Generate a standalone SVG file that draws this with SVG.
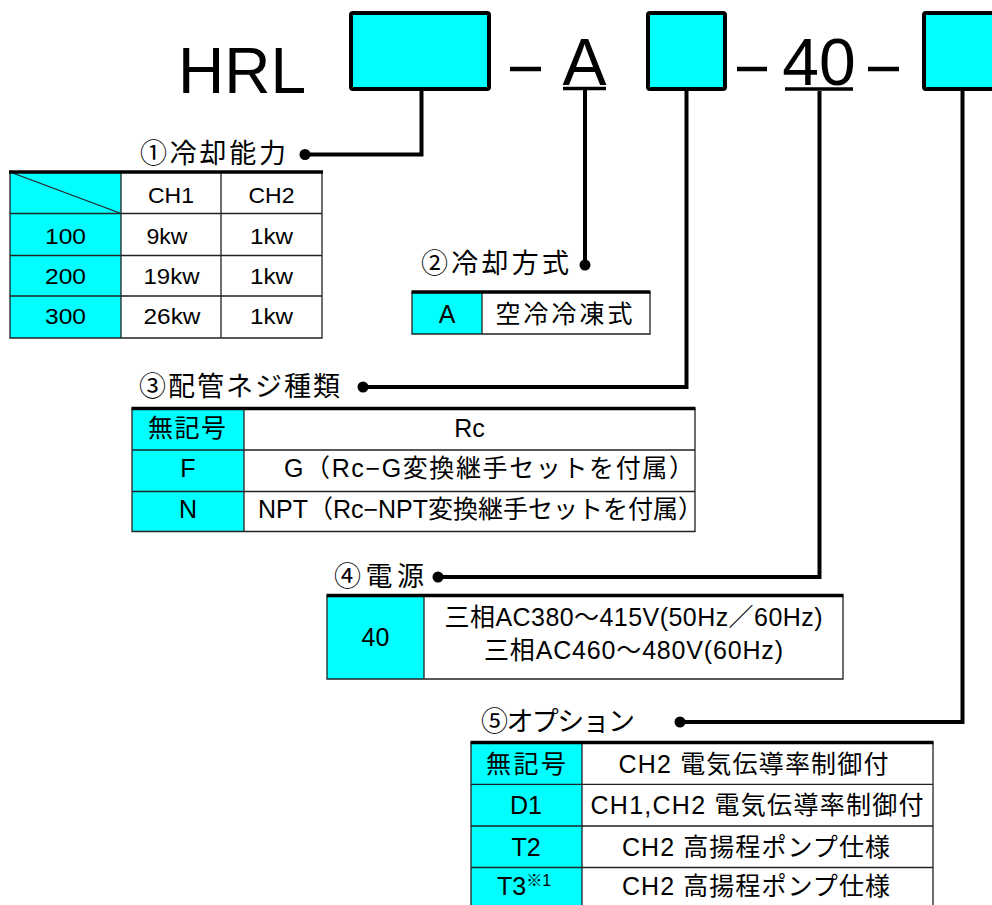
<svg xmlns="http://www.w3.org/2000/svg" width="992" height="905" viewBox="0 0 992 905">
<style>
.lbl{font-family:"Liberation Sans","Noto Sans CJK JP",sans-serif;font-size:27px;fill:#000}
.t{font-family:"Liberation Sans","Noto Sans CJK JP",sans-serif;font-size:25px;fill:#000;text-anchor:middle}
.t1{font-family:"Liberation Sans","Noto Sans CJK JP",sans-serif;font-size:22.5px;fill:#000;text-anchor:middle}
.big{font-family:"Liberation Sans","Noto Sans CJK JP",sans-serif;fill:#000}
.cy{fill:#00FFFF}
.wh{fill:#FFFFFF}
.grid{stroke:#222;stroke-width:1.3;fill:none}
.top{stroke:#000;stroke-width:3.5}
.box{fill:#00FFFF;stroke:#000;stroke-width:4}
.bar{stroke:#000;stroke-width:4.5}
.ul{stroke:#000;stroke-width:3.5}
.conn{stroke:#000;stroke-width:4;fill:none}
.dot{fill:#000}
</style>
<rect width="992" height="905" fill="#FFFFFF"/>

<g id="code">
  <text class="big" x="178" y="93" font-size="64">HRL</text>
  <rect class="box" x="351" y="13" width="138" height="76" rx="2"/>
  <line class="bar" x1="510" y1="69" x2="541" y2="69"/>
  <text class="big" x="584.5" y="85" font-size="66" text-anchor="middle">A</text>
  <line class="ul" x1="563" y1="88.5" x2="606" y2="88.5"/>
  <rect class="box" x="648" y="13" width="77" height="76" rx="2"/>
  <line class="bar" x1="737" y1="69" x2="767" y2="69"/>
  <text class="big" x="819" y="85" font-size="66" text-anchor="middle">40</text>
  <line class="ul" x1="785" y1="89" x2="853" y2="89"/>
  <line class="bar" x1="868" y1="69" x2="899" y2="69"/>
  <rect class="box" x="924" y="13" width="80" height="76" rx="2"/>
</g>

<g id="connectors">
  <path class="conn" d="M421.5,91 V154.5 H305"/>
  <circle class="dot" cx="305" cy="154.5" r="5.5"/>
  <path class="conn" d="M585,90 V265"/>
  <circle class="dot" cx="585" cy="265" r="5.5"/>
  <path class="conn" d="M686.5,91 V387 H363"/>
  <circle class="dot" cx="363" cy="387" r="5.5"/>
  <path class="conn" d="M819.5,91 V577 H438"/>
  <circle class="dot" cx="438" cy="577" r="5.5"/>
  <path class="conn" d="M962.5,91 V722 H680"/>
  <circle class="dot" cx="680" cy="722" r="5.5"/>
</g>

<g id="opt1">
  <text class="lbl" x="140" y="163" textLength="146">①冷却能力</text>
  <rect class="cy" x="10" y="172" width="111" height="166"/>
  <rect class="wh" x="121" y="172" width="201" height="166"/>
  <path class="grid" d="M10,172 V338 H322 V172 M121,172 V338 M221,172 V338 M10,213.5 H322 M10,255.5 H322 M10,296 H322"/>
  <line class="grid" x1="10" y1="172" x2="121" y2="213.5"/>
  <line class="top" x1="9" y1="172" x2="323" y2="172"/>
  <text class="t1" x="171" y="203" textLength="46" lengthAdjust="spacingAndGlyphs">CH1</text>
  <text class="t1" x="271.5" y="203" textLength="46" lengthAdjust="spacingAndGlyphs">CH2</text>
  <text class="t1" x="65.5" y="243.5" textLength="41" lengthAdjust="spacingAndGlyphs">100</text>
  <text class="t1" x="167" y="243.5" textLength="41" lengthAdjust="spacingAndGlyphs">9kw</text>
  <text class="t1" x="271.5" y="243.5" textLength="43" lengthAdjust="spacingAndGlyphs">1kw</text>
  <text class="t1" x="65.5" y="284" textLength="41" lengthAdjust="spacingAndGlyphs">200</text>
  <text class="t1" x="171.5" y="284" textLength="56" lengthAdjust="spacingAndGlyphs">19kw</text>
  <text class="t1" x="271.5" y="284" textLength="43" lengthAdjust="spacingAndGlyphs">1kw</text>
  <text class="t1" x="65.5" y="324" textLength="41" lengthAdjust="spacingAndGlyphs">300</text>
  <text class="t1" x="172" y="324" textLength="57" lengthAdjust="spacingAndGlyphs">26kw</text>
  <text class="t1" x="271.5" y="324" textLength="43" lengthAdjust="spacingAndGlyphs">1kw</text>
</g>

<g id="opt2">
  <text class="lbl" x="421" y="273" textLength="148">②冷却方式</text>
  <rect class="cy" x="412" y="292" width="70" height="42"/>
  <rect class="wh" x="482" y="292" width="168" height="42"/>
  <path class="grid" d="M412,292 V334 H650 V292 M482,292 V334"/>
  <line class="top" x1="411.5" y1="292" x2="650.5" y2="292"/>
  <text class="t" x="447" y="323">A</text>
  <text class="t" x="564" y="323" font-size="26" textLength="137">空冷冷凍式</text>
</g>

<g id="opt3">
  <text class="lbl" x="139" y="396" textLength="201">③配管ネジ種類</text>
  <rect class="cy" x="132" y="408.5" width="112" height="123"/>
  <rect class="wh" x="244" y="408.5" width="451" height="123"/>
  <path class="grid" d="M132,408.5 V531.5 H695 V408.5 M244,408.5 V531.5 M132,450 H695 M132,491.5 H695"/>
  <line class="top" x1="131.5" y1="408.5" x2="695.5" y2="408.5"/>
  <text class="t" x="187" y="437" textLength="78">無記号</text>
  <text class="t" x="469.5" y="437">Rc</text>
  <text class="t" x="188" y="477">F</text>
  <text class="t" x="284" y="477" style="text-anchor:start" textLength="410">G（Rc−G変換継手セットを付属）</text>
  <text class="t" x="188" y="518">N</text>
  <text class="t" x="258" y="518" style="text-anchor:start" textLength="445">NPT（Rc−NPT変換継手セットを付属）</text>
</g>

<g id="opt4">
  <text class="lbl" x="334" y="586" textLength="90">④電源</text>
  <rect class="cy" x="327" y="595.5" width="97" height="83.5"/>
  <rect class="wh" x="424" y="595.5" width="419" height="83.5"/>
  <path class="grid" d="M327,595.5 V679 H843 V595.5 M424,595.5 V679"/>
  <line class="top" x1="326.5" y1="595.5" x2="843.5" y2="595.5"/>
  <text class="t" x="375.5" y="645.5">40</text>
  <text class="t" x="633.5" y="626" textLength="378">三相AC380～415V(50Hz／60Hz)</text>
  <text class="t" x="633.5" y="659" textLength="299">三相AC460～480V(60Hz)</text>
</g>

<g id="opt5">
  <text class="lbl" x="481" y="731" textLength="154">⑤オプション</text>
  <rect class="cy" x="471" y="742.5" width="111" height="165"/>
  <rect class="wh" x="582" y="742.5" width="351" height="165"/>
  <path class="grid" d="M471,742.5 V910 M582,742.5 V910 M933,742.5 V910 M471,784.3 H933 M471,826 H933 M471,867.5 H933"/>
  <line class="top" x1="470.5" y1="742.5" x2="933.5" y2="742.5"/>
  <text class="t" x="526" y="772.5" textLength="80">無記号</text>
  <text class="t" x="753.5" y="772.5" textLength="270">CH2 電気伝導率制御付</text>
  <text class="t" x="526" y="814">D1</text>
  <text class="t" x="757" y="814" textLength="333">CH1,CH2 電気伝導率制御付</text>
  <text class="t" x="526" y="855.5">T2</text>
  <text class="t" x="756" y="855.5" textLength="268">CH2 高揚程ポンプ仕様</text>
  <text class="t" x="524" y="895">T3<tspan font-size="16" dy="-9">※1</tspan></text>
  <text class="t" x="756" y="895" textLength="268">CH2 高揚程ポンプ仕様</text>
</g>
</svg>
